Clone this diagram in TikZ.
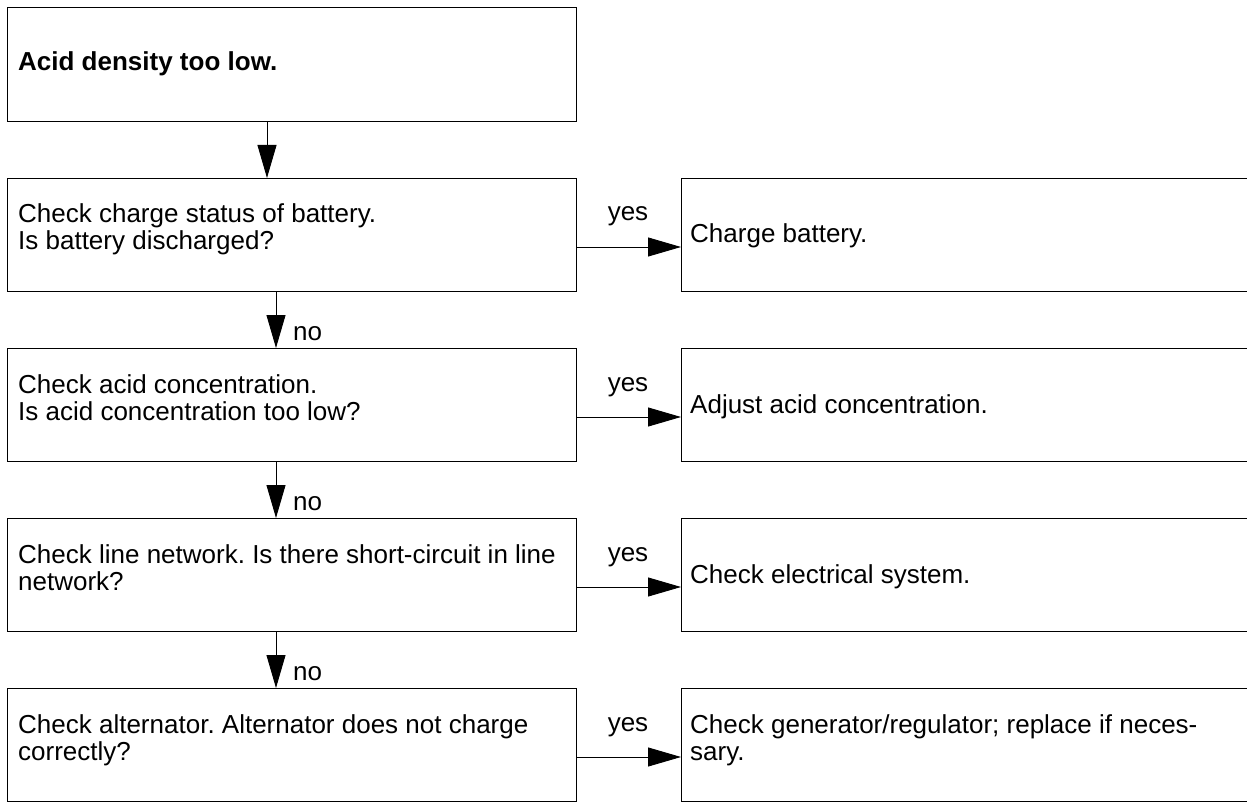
\documentclass[tikz,border=0pt]{standalone}
\usepackage{fontspec}
\setmainfont{Liberation Sans}
\usetikzlibrary{arrows.meta}
\frenchspacing
\begin{document}
\begin{tikzpicture}[x=1pt,y=-1pt,
  box/.style={draw, line width=1pt, rectangle, inner sep=0pt, anchor=north west, minimum width=569pt, minimum height=113pt},
  rbox/.style={box, minimum width=620pt},
  txt/.style={inner sep=0pt, anchor=base west, align=left, font=\fontsize{26}{27}\selectfont},
  lbl/.style={inner sep=0pt, font=\fontsize{26}{27}\selectfont},
  arr/.style={line width=0.9pt, -{Triangle[length=33pt,width=19pt]}}]
\clip (0,0) rectangle (1247,802);
% boxes
\node[box, minimum height=114pt] (b1) at (7,7) {};
\node[box] (b2) at (7,178) {};
\node[box] (b3) at (7,348) {};
\node[box] (b4) at (7,518) {};
\node[box] (b5) at (7,688) {};
\node[rbox] (r2) at (681,178) {};
\node[rbox] (r3) at (681,348) {};
\node[rbox] (r4) at (681,518) {};
\node[rbox] (r5) at (681,688) {};
% texts (base anchor = baseline of last line)
\node[txt] (t1) at (18,71) {\bfseries Acid density too low.};
\node[txt] (t2) at (18,250) {Check charge status of battery.\\Is battery discharged?};
\node[txt] (t3) at (18,420) {Check acid concentration.\\Is acid concentration too low?};
\node[txt] (t4) at (18,590) {Check line network. Is there short-circuit in line\\network?};
\node[txt] (t5) at (18,760) {Check alternator. Alternator does not charge\\correctly?};
\node[txt] (s2) at (690,243) {Charge battery.};
\node[txt] (s3) at (690,413) {Adjust acid concentration.};
\node[txt] (s4) at (690,583) {Check electrical system.};
\node[txt] (s5) at (690,760) {Check generator/regulator; replace if neces-\\sary.};
% coordinates
\coordinate (xa) at (267,0);
\coordinate (xb) at (276,0);
\coordinate (h2) at (0,247);
\coordinate (h3) at (0,417);
\coordinate (h4) at (0,587);
\coordinate (h5) at (0,757);
% vertical arrows
\draw[arr] (b1.south -| xa) -- (b2.north -| xa);
\draw[arr] (b2.south -| xb) -- (b3.north -| xb);
\draw[arr] (b3.south -| xb) -- (b4.north -| xb);
\draw[arr] (b4.south -| xb) -- (b5.north -| xb);
% horizontal arrows
\draw[arr] (b2.east |- h2) -- (r2.west |- h2);
\draw[arr] (b3.east |- h3) -- (r3.west |- h3);
\draw[arr] (b4.east |- h4) -- (r4.west |- h4);
\draw[arr] (b5.east |- h5) -- (r5.west |- h5);
% labels
\node[lbl, anchor=base] (y2) at (628,221) {yes};
\node[lbl, anchor=base] (y3) at (628,391) {yes};
\node[lbl, anchor=base] (y4) at (628,561) {yes};
\node[lbl, anchor=base] (y5) at (628,731) {yes};
\node[lbl, anchor=base west] (n3) at (293,340) {no};
\node[lbl, anchor=base west] (n4) at (293,510) {no};
\node[lbl, anchor=base west] (n5) at (293,680) {no};
\end{tikzpicture}
\end{document}
